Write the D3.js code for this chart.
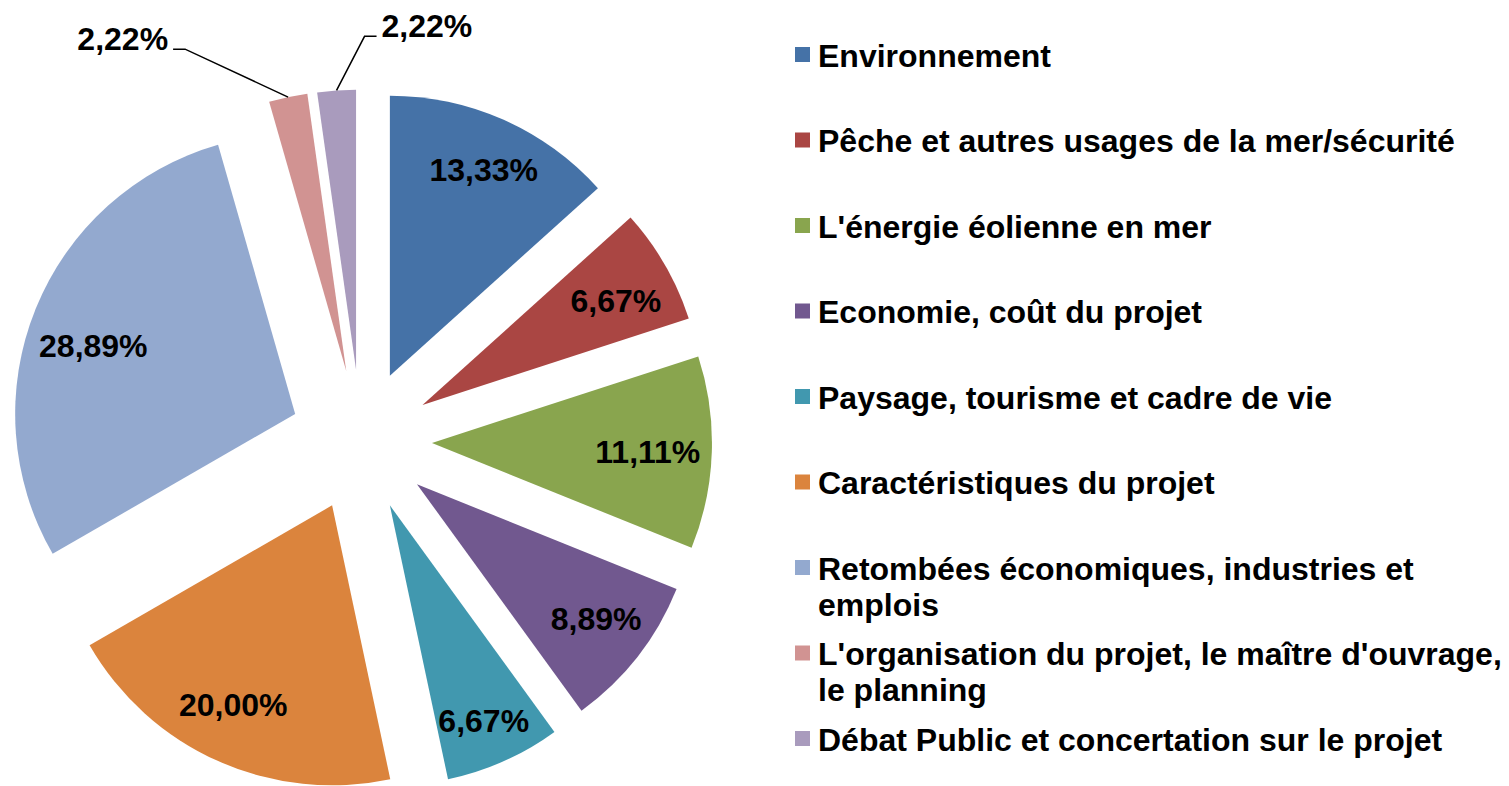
<!DOCTYPE html>
<html>
<head>
	<meta charset="utf-8">
	<title>Thèmes abordés</title>
	<style>
		body, html { margin: 0; padding: 0; background: #fff; }
		text { font-family: "Liberation Sans", Arial, sans-serif; font-weight: bold; fill: #000; }
	</style>
</head>
<body>
	<svg id="svg" width="1509" height="786"></svg>

	<script src="https://d3js.org/d3.v7.min.js"></script>
	<script>
		// Data
		const categories = [
			"Environnement",
			"Pêche et autres usages de la mer/sécurité",
			"L'énergie éolienne en mer",
			"Economie, coût du projet",
			"Paysage, tourisme et cadre de vie",
			"Caractéristiques du projet",
			"Retombées économiques, industries et emplois",
			"L'organisation du projet, le maître d'ouvrage, le planning",
			"Débat Public et concertation sur le projet"
		]
		const values = [13.33, 6.67, 11.11, 8.89, 6.67, 20.00, 28.89, 2.22, 2.22]
		const colors = ["#4572A7", "#AA4643", "#89A54E", "#71588F", "#4198AF",
			"#DB843D", "#93A9CF", "#D19392", "#A99BBD"]

		// Layout
		const cx = 361, cy = 440.5   // pie centre
		const radius = 280
		const explode = 71
		const labelR = 221
		// small hand nudges so labels sit like in the original (Excel "best fit")
		const nudge = [[4, -4], [2, 6], [-5, 1], [5, -2], [4, 13], [-9, -3], [3, 14], [0, 0], [0, 0]]

		const fr = d3.formatLocale({ decimal: ",", thousands: " ", grouping: [3], currency: ["", "€"] })
		const fmt = v => fr.format(".2f")(v) + "%"

		const svg = d3.select('#svg')

		const pie = d3.pie().sort(null).value(d => d)
		const arcs = pie(values)
		const arc = d3.arc().innerRadius(0).outerRadius(radius)

		// unit vector of a slice's bisector
		const dir = d => {
			const a = (d.startAngle + d.endAngle) / 2
			return [Math.sin(a), -Math.cos(a)]
		}

		const slices = svg.append('g')
			.attr('transform', `translate(${cx},${cy})`)
			.selectAll('g')
			.data(arcs)
			.join('g')
			.attr('transform', d => {
				const [ux, uy] = dir(d)
				return `translate(${ux * explode},${uy * explode})`
			})

		slices.append('path')
			.attr('d', arc)
			.attr('fill', (d, i) => colors[i])

		// labels inside the big slices
		slices.filter(d => d.value > 5)
			.append('text')
			.attr('x', d => dir(d)[0] * labelR + nudge[d.index][0])
			.attr('y', d => dir(d)[1] * labelR + nudge[d.index][1])
			.attr('dy', '0.36em')
			.attr('text-anchor', 'middle')
			.attr('font-size', 32)
			.text(d => fmt(d.value))

		// small slices: label outside with a leader line
		const small = slices.filter(d => d.value <= 5)
		// elbow offsets from the slice edge, and side of the text
		const leader = { 7: { dx: -103, dy: -48, side: -1 }, 8: { dx: 28, dy: -54, side: 1 } }

		small.each(function (d) {
			const g = d3.select(this)
			const L = leader[d.index]
			const [ux, uy] = dir(d)
			const x0 = ux * radius, y0 = uy * radius
			const x1 = x0 + L.dx, y1 = y0 + L.dy
			const x2 = x1 + L.side * 12
			g.append('polyline')
				.attr('points', `${x0},${y0} ${x1},${y1} ${x2},${y1}`)
				.attr('fill', 'none')
				.attr('stroke', '#000')
				.attr('stroke-width', 1.5)
			g.append('text')
				.attr('x', x2 + L.side * 5)
				.attr('y', y1 + 1)
				.attr('text-anchor', L.side < 0 ? 'end' : 'start')
				.attr('font-size', 32)
				.text(fmt(d.value))
		})

		// Legend
		const legendY = d3.scalePoint()
			.domain(categories)
			.range([55, 739])

		const legend = svg.append('g')
			.selectAll('g')
			.data(categories)
			.join('g')
			.attr('transform', d => `translate(795,${legendY(d)})`)

		legend.append('rect')
			.attr('x', 0)
			.attr('y', -8)
			.attr('width', 15)
			.attr('height', 15)
			.attr('fill', (d, i) => colors[i])

		const maxW = 690
		legend.append('text')
			.attr('x', 23)
			.attr('font-size', 32)
			.each(function (d) {
				const t = d3.select(this)
				const words = d.split(' ')
				let line = [], lineNo = 0
				let tspan = t.append('tspan').attr('x', 23).attr('y', 0).attr('dy', '0.36em')
				words.forEach(w => {
					line.push(w)
					tspan.text(line.join(' '))
					if (tspan.node().getComputedTextLength() > maxW && line.length > 1) {
						line.pop()
						tspan.text(line.join(' '))
						line = [w]
						lineNo++
						tspan = t.append('tspan').attr('x', 23).attr('y', lineNo * 36).attr('dy', '0.36em').text(w)
					}
				})
			})
	</script>
</body>
</html>
